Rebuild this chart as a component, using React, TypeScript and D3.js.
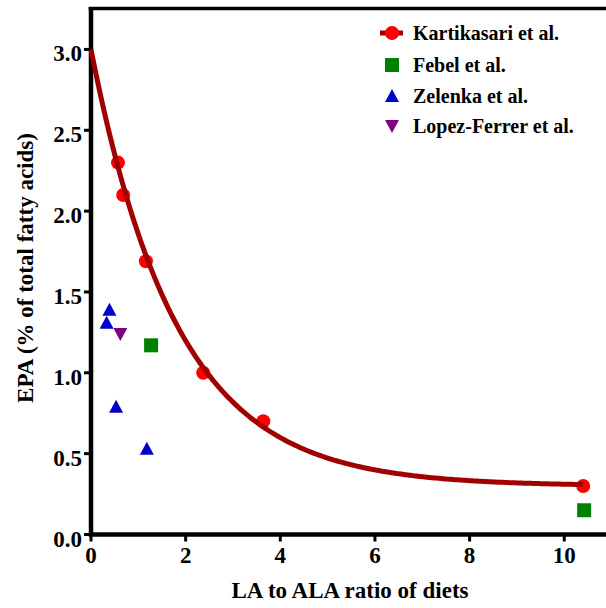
import React from "react";
import * as d3 from "d3";

// Data
const kartikasariX = [0.57, 0.68, 1.16, 2.37, 3.64, 10.4];
const kartikasariY = [2.3, 2.1, 1.69, 1.0, 0.7, 0.3];
const febelX = [1.27, 10.42];
const febelY = [1.17, 0.15];
const zelenkaX = [0.39, 0.33, 0.53, 1.18];
const zelenkaY = [1.39, 1.31, 0.79, 0.53];
const lopezX = [0.62];
const lopezY = [1.24];

// one-phase decay fit parameters (Kartikasari curve)
const fitY0 = 3.0;
const fitPlateau = 0.3;
const fitK = 0.55;
const fitXMax = 10.4;

const xTicks = [0, 2, 4, 6, 8, 10];
const yTicks = [0, 0.5, 1.0, 1.5, 2.0, 2.5, 3.0];

const legendLabels = ["Kartikasari et al.", "Febel et al.", "Zelenka et al.", "Lopez-Ferrer et al."];

const W = 606;
const H = 608;
const FONT = "'Liberation Serif', 'Times New Roman', serif";

export default function App() {
  const x = d3.scaleLinear().domain([0, 11]).range([91, 611.6]);
  const y = d3.scaleLinear().domain([0, 3.25]).range([534.5, 9]);

  const fitPts = d3.range(0, fitXMax + 0.0001, 0.05).map((v) => [v, fitPlateau + (fitY0 - fitPlateau) * Math.exp(-fitK * v)] as [number, number]);
  const line = d3.line<[number, number]>().x((d) => x(d[0])).y((d) => y(d[1])).curve(d3.curveMonotoneX);

  const tri = (cx: number, cy: number, up: boolean) => {
    const s = 7;
    if (up) return `M${cx},${cy - s}L${cx + s},${cy + s * 0.85}L${cx - s},${cy + s * 0.85}Z`;
    return `M${cx},${cy + s}L${cx + s},${cy - s * 0.85}L${cx - s},${cy - s * 0.85}Z`;
  };

  const red = "#ff0000";
  const dark = "#a00000";
  const green = "#008000";
  const blue = "#0000c8";
  const purple = "#800080";

  const legendX = 392;
  const legendY = [33, 65, 96, 126];

  return (
    <svg width={W} height={H} style={{ position: "absolute", left: 0, top: 0, display: "block" }} fontFamily={FONT}>
      <rect width={W} height={H} fill="#fff" />
      {/* frame */}
      <line x1={88.7} x2={W} y1={8.5} y2={8.5} stroke="#000" strokeWidth={3.5} />
      <line x1={x(0)} x2={x(0)} y1={7} y2={y(0) + 2} stroke="#000" strokeWidth={4.5} />
      <line x1={x(0) - 2} x2={W} y1={y(0)} y2={y(0)} stroke="#000" strokeWidth={4.5} />
      {/* y ticks */}
      {yTicks.map((t) => (
        <g key={"y" + t}>
          <line x1={x(0) - 7} x2={x(0)} y1={y(t)} y2={y(t)} stroke="#000" strokeWidth={3} />
          <text x={82} y={y(t) + 12} textAnchor="end" fontSize={23} fontWeight="bold">
            {t.toFixed(1)}
          </text>
        </g>
      ))}
      {/* x ticks */}
      {xTicks.map((t) => (
        <g key={"x" + t}>
          <line x1={x(t)} x2={x(t)} y1={y(0)} y2={y(0) + 7} stroke="#000" strokeWidth={3} />
          <text x={x(t)} y={563} textAnchor="middle" fontSize={23} fontWeight="bold">
            {t}
          </text>
        </g>
      ))}
      <text x={350} y={598} textAnchor="middle" fontSize={23} fontWeight="bold">
        LA to ALA ratio of diets
      </text>
      <text transform={`translate(33,268) rotate(-90)`} textAnchor="middle" fontSize={23} fontWeight="bold">
        EPA (% of total fatty acids)
      </text>

      {/* markers */}
      {kartikasariX.map((v, i) => (
        <circle key={"k" + i} cx={x(v)} cy={y(kartikasariY[i])} r={7} fill={red} />
      ))}
      {febelX.map((v, i) => (
        <rect key={"f" + i} x={x(v) - 7} y={y(febelY[i]) - 7} width={14} height={14} fill={green} />
      ))}
      {zelenkaX.map((v, i) => (
        <path key={"z" + i} d={tri(x(v), y(zelenkaY[i]), true)} fill={blue} />
      ))}
      {lopezX.map((v, i) => (
        <path key={"l" + i} d={tri(x(v), y(lopezY[i]), false)} fill={purple} />
      ))}
      <path d={line(fitPts) || ""} fill="none" stroke={dark} strokeWidth={5} />

      {/* legend */}
      <line x1={legendX - 12} x2={legendX + 11} y1={legendY[0]} y2={legendY[0]} stroke={dark} strokeWidth={5} />
      <circle cx={legendX} cy={legendY[0]} r={7} fill={red} />
      <rect x={legendX - 7} y={legendY[1] - 7} width={14} height={14} fill={green} />
      <path d={tri(legendX, legendY[2], true)} fill={blue} />
      <path d={tri(legendX, legendY[3], false)} fill={purple} />
      {legendLabels.map((s, i) => (
        <text key={s} x={413} y={legendY[i] + 7} fontSize={20} fontWeight="bold">
          {s}
        </text>
      ))}
    </svg>
  );
}
